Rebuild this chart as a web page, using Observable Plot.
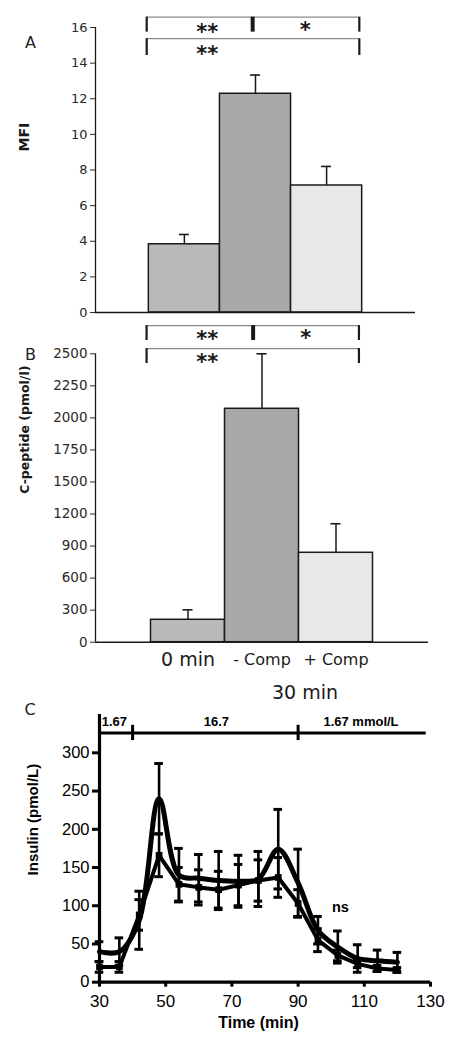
<!DOCTYPE html>
<html><head><meta charset="utf-8">
<script src="https://cdn.jsdelivr.net/npm/d3@7"></script>
<script src="https://cdn.jsdelivr.net/npm/@observablehq/plot@0.6"></script>
<style>
html,body{margin:0;padding:0;background:#fff;}
#wrap{position:relative;width:454px;height:1043px;overflow:hidden;background:#fff;}
</style></head>
<body><div id="wrap"></div>
<script>
// ---------- data ----------
const barCategories = ["0 min", "- Comp", "+ Comp"];
const barLabelSizes = [19, 16, 16];
const barFills = ["#b9b9b9", "#a9a9a9", "#e8e8e8"];

const mfiValues = [3.83, 12.28, 7.13];
const mfiErrors = [0.55, 1.05, 1.07];
const mfiTicks = [0, 2, 4, 6, 8, 10, 12, 14, 16];

const cpepValues = [210, 2071, 837];
const cpepErrors = [93, 429, 272];
const cpepTicks = [0, 300, 600, 900, 1200, 1500, 1750, 2000, 2250, 2500];

const sigLabels = ["**", "*", "**"];
// panel A annotation (MFI units)
const sigXA = [0.82, 2.20, 0.82];
const sigYA = [15.74, 15.85, 14.48];
const bracketXA = [-0.03, 1.46, 2.96];
const bracketRowsA = [[16.58, 15.74], [15.37, 14.43]];
// panel B annotation (C-peptide units)
const sigXB = [0.76, 2.09, 0.76];
const sigYB = [2612, 2625, 2437];
const bracketXB = [-0.06, 1.38, 2.81];
const bracketRowsB = [[2720, 2604], [2541, 2424]];

const timeMin = [30, 36, 42, 48, 54, 60, 66, 72, 78, 84, 90, 96, 102, 108, 114, 120];
const insulinUpper = [40, 40, 81, 240, 140, 136, 133, 132, 135, 174, 130, 68, 46, 31, 28, 26];
const insulinUpperSD = [13, 18, 38, 46, 35, 31, 38, 34, 36, 52, 44, 18, 21, 18, 14, 13];
const insulinLower = [20, 20, 88, 166, 128, 124, 121, 127, 133, 137, 103, 55, 35, 24, 18, 16];
const insulinLowerSD = [7, 7, 20, 28, 22, 23, 24, 27, 27, 26, 18, 15, 7, 5, 4, 3];
const timeTicks = [30, 50, 70, 90, 110, 130];
const insulinTicks = [0, 50, 100, 150, 200, 250, 300];
const glucoseSteps = [30, 40, 90, 128.7];
const glucoseLabels = ["1.67", "16.7", "1.67 mmol/L"];
const glucoseLabelX = [34.5, 65.3, 109];

// ---------- helpers ----------
const wrap = document.getElementById("wrap");
function place(svg, top) {
  svg.style.position = "absolute";
  svg.style.left = "0px";
  svg.style.top = top + "px";
  wrap.appendChild(svg);
}
const ink = "#1a1a1a";
const VER = "DejaVu Sans, Verdana, sans-serif";
const ARI = "Liberation Sans, Arial, sans-serif";

function barPanel({values, errors, toY, ticks, tickFormat, yDomain, top, height, marginTop, marginBottom, marginRight,
                   capHalf, tickFont, sigX, sigY, bracketX, bracketRows, letter, letterDy, ylabel, ylabelSize, ylabelDy, xLabels}) {
  const rows = barCategories.map((c, i) => ({
    cat: c, x1: i, x2: i + 1, mid: i + 0.5, fill: barFills[i],
    v: toY(values[i]), hi: toY(values[i] + errors[i]), size: barLabelSizes[i]
  }));
  const sig = sigLabels.map((s, i) => ({s, x: sigX[i], y: toY(sigY[i])}));
  const hLines = bracketRows.map(r => ({y: toY(r[0]), x1: bracketX[0], x2: bracketX[2]}));
  const vTicks = [];
  bracketRows.forEach((r, k) => {
    const xs = k === 0 ? bracketX : [bracketX[0], bracketX[2]];
    xs.forEach((x, j) => vTicks.push({x, y1: toY(r[0]), y2: toY(r[1]), w: (k === 0 && j === 1) ? 4 : 2.2}));
  });
  const marks = [
    Plot.rectY(rows, {x1: "x1", x2: "x2", y1: 0, y2: "v", fill: "fill", stroke: ink, strokeWidth: 1.5}),
    Plot.ruleX(rows, {x: "mid", y1: "v", y2: "hi", stroke: ink, strokeWidth: 1.5}),
    Plot.ruleY(rows, {y: "hi", x1: d => d.mid - capHalf, x2: d => d.mid + capHalf, stroke: ink, strokeWidth: 1.6}),
    Plot.ruleY([0], {stroke: ink, strokeWidth: 1.5}),
    Plot.ruleX([-0.75], {stroke: ink, strokeWidth: 1.3}),
    Plot.axisY({ticks, tickFormat, tickSize: 5, tickPadding: 3, fontSize: tickFont, fontFamily: VER, color: "#2a2a2a", label: null}),
    Plot.ruleY(hLines, {y: "y", x1: "x1", x2: "x2", stroke: "#8a8a8a", strokeWidth: 1.2}),
    Plot.ruleX(vTicks, {x: "x", y1: "y1", y2: "y2", stroke: ink, strokeWidth: "w"}),
    Plot.text(sig, {x: "x", y: "y", text: "s", fontSize: 21, fontWeight: "bold", fontFamily: VER, fill: ink}),
    Plot.text([letter], {frameAnchor: "top-left", dx: -70.5, dy: letterDy, fontSize: 16, fontFamily: VER, fill: "#222"}),
    Plot.text([ylabel], {frameAnchor: "left", dx: -70.5, dy: ylabelDy, rotate: -90, fontSize: ylabelSize, fontWeight: "bold", fontFamily: VER, fill: ink})
  ];
  if (xLabels) {
    marks.push(Plot.text(rows, {x: "mid", y: 0, dy: 17.5, text: "cat", fontSize: "size", fontFamily: VER, fill: ink}));
    marks.push(Plot.text(["30 min"], {x: 2, y: 0, dx: 6, dy: 50.5, fontSize: 19, fontFamily: VER, fill: ink}));
  }
  const svg = Plot.plot({
    width: 454, height, marginLeft: 95, marginRight, marginTop, marginBottom,
    style: {background: "transparent", overflow: "visible", color: ink},
    x: {domain: [-0.75, 3.75], axis: null},
    y: {domain: yDomain},
    color: {type: "identity"},
    marks
  });
  place(svg, top);
}

// ---------- Panel A ----------
barPanel({
  values: mfiValues, errors: mfiErrors, toY: v => v, ticks: mfiTicks, tickFormat: d => String(d), yDomain: [0, 16],
  top: 0, height: 322, marginTop: 27, marginBottom: 10, marginRight: 39, capHalf: 0.07, tickFont: 13,
  sigX: sigXA, sigY: sigYA, bracketX: bracketXA, bracketRows: bracketRowsA,
  letter: "A", letterDy: 9, ylabel: "MFI", ylabelSize: 14, ylabelDy: -18.5, xLabels: false
});

// ---------- Panel B (evenly spaced ticks with the original uneven labels) ----------
const cpepIndex = d3.scaleLinear().domain(cpepTicks).range(cpepTicks.map((_, i) => i));
barPanel({
  values: cpepValues, errors: cpepErrors, toY: v => cpepIndex(v), ticks: cpepTicks.map((_, i) => i),
  tickFormat: i => String(cpepTicks[i]), yDomain: [0, cpepTicks.length - 1],
  top: 318, height: 382, marginTop: 35.3, marginBottom: 58.3, marginRight: 26, capHalf: 0.068, tickFont: 13.5,
  sigX: sigXB, sigY: sigYB, bracketX: bracketXB, bracketRows: bracketRowsB,
  letter: "B", letterDy: -5.3, ylabel: "C-peptide (pmol/l)", ylabelSize: 12.5, ylabelDy: -4.2, xLabels: true
});

// ---------- Panel C ----------
const upper = timeMin.map((t, i) => ({t, v: insulinUpper[i], lo: insulinUpper[i] - insulinUpperSD[i], hi: insulinUpper[i] + insulinUpperSD[i]}));
const lower = timeMin.map((t, i) => ({t, v: insulinLower[i], lo: insulinLower[i] - insulinLowerSD[i], hi: insulinLower[i] + insulinLowerSD[i]}));
const caps = [];
[upper, lower].forEach(s => s.forEach(d => { caps.push({t: d.t, y: d.lo}); caps.push({t: d.t, y: d.hi}); }));
const glucoseSeg = [{x1: glucoseSteps[0], x2: glucoseSteps[3]}];
const glucoseTicks = [glucoseSteps[1], glucoseSteps[2]];
const glucoseText = glucoseLabels.map((s, i) => ({s, x: glucoseLabelX[i]}));

const svgC = Plot.plot({
  width: 454, height: 353, marginLeft: 99, marginRight: 24, marginTop: 24.1, marginBottom: 61.3,
  style: {background: "transparent", overflow: "visible", color: "#000", fontFamily: ARI},
  x: {domain: [30, 130]},
  y: {domain: [0, 350]},
  marks: [
    Plot.ruleX(upper, {x: "t", y1: "lo", y2: "hi", stroke: "#000", strokeWidth: 2.6}),
    Plot.ruleX(lower, {x: "t", y1: "lo", y2: "hi", stroke: "#000", strokeWidth: 2.6}),
    Plot.ruleY(caps, {y: "y", x1: d => d.t - 1.3, x2: d => d.t + 1.3, stroke: "#000", strokeWidth: 3}),
    Plot.line(upper, {x: "t", y: "v", curve: "catmull-rom", stroke: "#000", strokeWidth: 5}),
    Plot.line(lower, {x: "t", y: "v", stroke: "#000", strokeWidth: 4}),
    Plot.dot(lower, {x: "t", y: "v", symbol: "square", r: 3.8, fill: "#000", stroke: "none"}),
    Plot.ruleY([0], {stroke: "#000", strokeWidth: 3.2}),
    Plot.ruleX([30], {stroke: "#000", strokeWidth: 3.2}),
    Plot.axisX({ticks: timeTicks, tickSize: 5, tickPadding: 8, strokeWidth: 3, fontSize: 17, fontFamily: ARI, label: null}),
    Plot.axisY({ticks: insulinTicks, tickSize: 7, tickPadding: 3, strokeWidth: 3, fontSize: 16.5, fontFamily: ARI, label: null}),
    Plot.ruleY(glucoseSeg, {y: 326, x1: "x1", x2: "x2", stroke: "#000", strokeWidth: 3}),
    Plot.ruleX(glucoseTicks, {x: d => d, y1: 316, y2: 336, stroke: "#000", strokeWidth: 3}),
    Plot.text(glucoseText, {x: "x", y: 340, text: "s", fontSize: 13, fontWeight: "bold", fontFamily: ARI, fill: "#000"}),
    Plot.text(["ns"], {x: 102.8, y: 98, fontSize: 14.5, fontWeight: "bold", fontFamily: ARI, fill: "#000"}),
    Plot.text(["Time (min)"], {frameAnchor: "bottom", dx: -6.5, dy: 45.3, fontSize: 16, fontWeight: "bold", fontFamily: ARI, fill: "#000"}),
    Plot.text(["Insulin (pmol/L)"], {frameAnchor: "left", dx: -66, dy: 27, rotate: -90, fontSize: 15, fontWeight: "bold", fontFamily: ARI, fill: "#000"}),
    Plot.text(["C"], {frameAnchor: "top-left", dx: -75, dy: -11, fontSize: 16, fontFamily: VER, fill: "#222"})
  ]
});
place(svgC, 690);
</script>
</body></html>
